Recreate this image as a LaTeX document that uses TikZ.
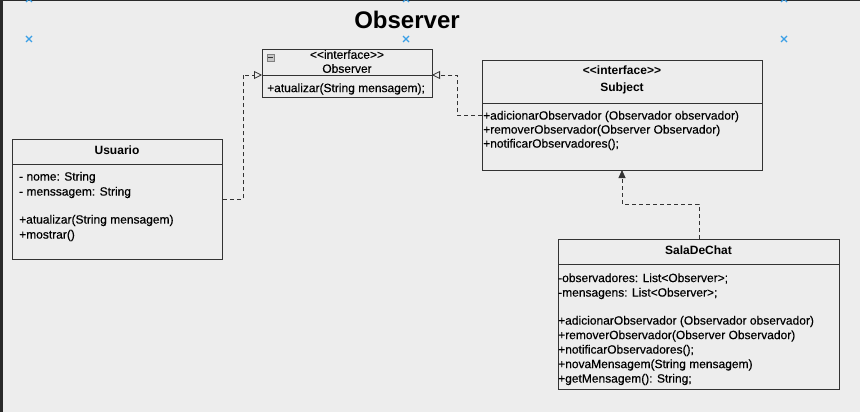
\documentclass[tikz,border=0pt]{standalone}
\usepackage{fontspec}
\setmainfont{Liberation Sans}[Ligatures=TeXOff]
\newfontfamily\umlfont{Liberation Sans}[Ligatures=TeXOff, FakeBold=0.35]
\usetikzlibrary{arrows.meta}
\definecolor{bg}{HTML}{EDEDED}
\definecolor{frame}{HTML}{2A2A2A}
\definecolor{edge}{HTML}{333333}
\definecolor{mark}{HTML}{3A9FE6}
\begin{document}
\begin{tikzpicture}[x=1pt,y=-1pt,
  umlbox/.style={draw=edge, line width=0.9pt, fill=bg, anchor=north west, inner sep=0pt},
  divider/.style={draw=edge, line width=0.9pt},
  member/.style={anchor=west, inner sep=0pt, text=black, font=\umlfont\fontsize{12}{14}\selectfont},
  header/.style={anchor=center, inner sep=0pt, text=black, font=\umlfont\fontsize{12}{14}\selectfont},
  headerbold/.style={header, font=\fontsize{12}{14}\selectfont\bfseries},
  realize/.style={draw=edge, line width=0.8pt, dash pattern=on 4pt off 3pt, -{Triangle[open, length=8pt, width=8pt]}},
  depend/.style={draw=edge, line width=0.8pt, dash pattern=on 4pt off 3pt, -{Triangle[length=8pt, width=7pt]}},
  xmark/.style={draw=mark, line width=1.1pt}
]
% canvas and window edges
\fill[bg] (0,0) rectangle (860,412);
\useasboundingbox (0,0) rectangle (860,412);
\fill[frame] (0,0) rectangle (2.5,412);
\fill[frame] (0,0) rectangle (860,1.5);

% guide markers
\foreach \px/\py in {29/39, 406/39, 784/39, 29/-1, 406/-1, 784/-1}
  \draw[xmark] (\px-3,\py-3) -- (\px+3,\py+3) (\px-3,\py+3) -- (\px+3,\py-3);

% title
\node[inner sep=0pt, font=\fontsize{24}{28}\selectfont\bfseries] (title) at (407,20) {Observer};

% interface Observer
\node[umlbox, minimum width=170pt, minimum height=48pt] (observer) at (262,49) {};
\draw[divider] (262,75) -- (432,75);
\node[draw=gray, fill=gray!45, minimum size=7pt, inner sep=0pt] (collapse) at (270.5,57.5) {};
\draw[edge, line width=1pt] (268,57.5) -- (273,57.5);
\node[header] (obsStereo) at (347,54.5) {<<interface>>};
\node[header] (obsName) at (347,68.5) {Observer};
\node[member] (obsM1) at (267,89) {+atualizar(String mensagem);};

% interface Subject
\node[umlbox, minimum width=280pt, minimum height=110pt] (subject) at (482,60) {};
\draw[divider] (482,103) -- (762,103);
\node[headerbold] (subStereo) at (622,70) {<<interface>>};
\node[headerbold] (subName) at (622,88.5) {Subject};
\node[member] (subM1) at (483,116.5) {+adicionarObservador (Observador observador)};
\node[member] (subM2) at (483,130.5) {+removerObservador(Observer Observador)};
\node[member] (subM3) at (483,144.5) {+notificarObservadores();};

% class Usuario
\node[umlbox, minimum width=210pt, minimum height=120pt] (usuario) at (12,139) {};
\draw[divider] (12,164) -- (222,164);
\node[headerbold] (usuName) at (117,150.5) {Usuario};
\node[member] (usuA1) at (19,177.5) {- nome: String};
\node[member] (usuA2) at (19,192.5) {- menssagem: String};
\node[member] (usuM1) at (19,220.5) {+atualizar(String mensagem)};
\node[member] (usuM2) at (19,235.5) {+mostrar()};

% class SalaDeChat
\node[umlbox, minimum width=281pt, minimum height=150pt] (sala) at (558,239) {};
\draw[divider] (558,264) -- (839,264);
\node[headerbold] (salaName) at (698.5,250.5) {SalaDeChat};
\node[member] (salaA1) at (558,278.5) {-observadores: List<Observer>;};
\node[member] (salaA2) at (558,293.5) {-mensagens: List<Observer>;};
\node[member] (salaM1) at (558,321.5) {+adicionarObservador (Observador observador)};
\node[member] (salaM2) at (558,336) {+removerObservador(Observer Observador)};
\node[member] (salaM3) at (558,350.5) {+notificarObservadores();};
\node[member] (salaM4) at (558,365) {+novaMensagem(String mensagem)};
\node[member] (salaM5) at (558,379.5) {+getMensagem(): String;};

% connector end points
\coordinate (obsLeft) at (262,75);
\coordinate (obsRight) at (432,75);
\coordinate (subBottom) at (622,170);

% realizations and dependency
\draw[realize] (usuario.east) -- ++(20,0) |- (obsLeft);
\draw[realize] (subject.west) -- ++(-25,0) |- (obsRight);
\draw[depend] (sala.north) -- ++(0,-35) -| (subBottom);
\end{tikzpicture}
\end{document}
